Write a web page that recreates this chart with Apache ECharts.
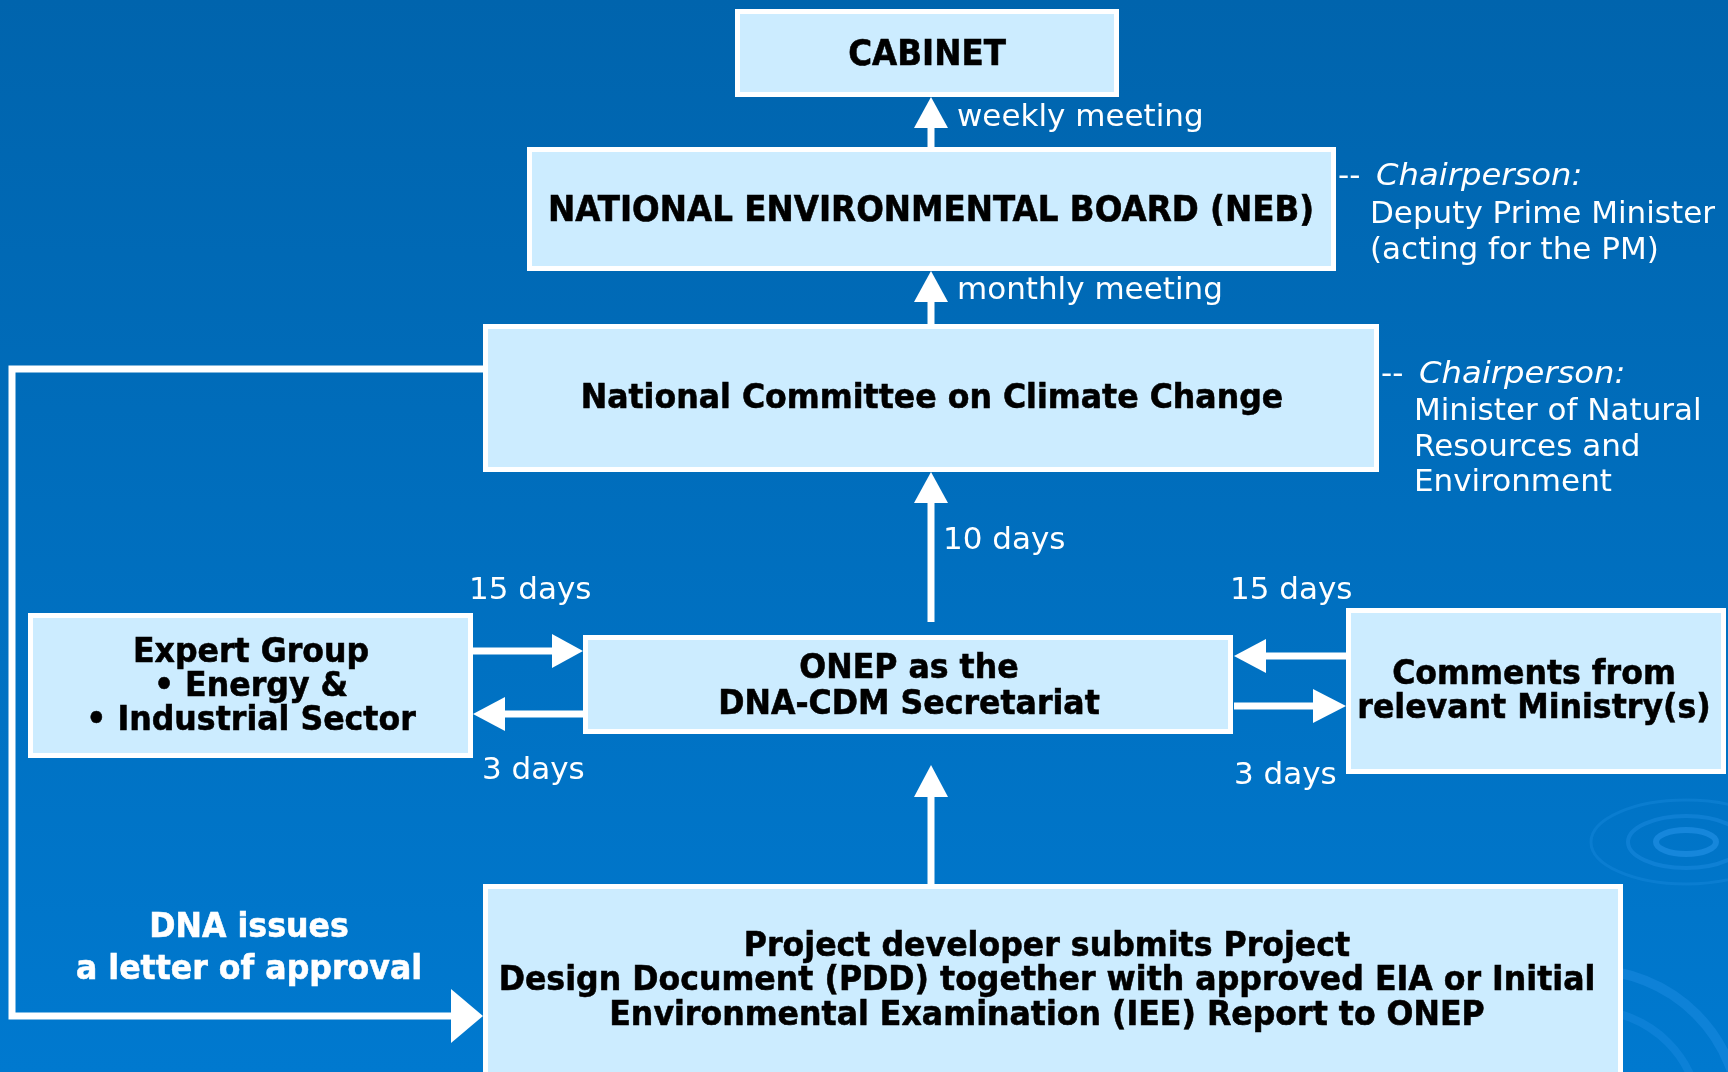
<!DOCTYPE html>
<html><head><meta charset="utf-8">
<script src="https://cdn.jsdelivr.net/npm/echarts@6/dist/echarts.min.js"></script>
<style>html,body{margin:0;padding:0;background:#006cb8}#c{width:1728px;height:1072px}</style>
</head><body><div id="c"></div>
<script>
// ---------- DATA (text content of the flowchart) ----------
const boxLabels = [
  ['CABINET'],
  ['NATIONAL ENVIRONMENTAL BOARD (NEB)'],
  ['National Committee on Climate Change'],
  ['Expert Group', '\u2022 Energy &', '\u2022 Industrial Sector'],
  ['ONEP as the', 'DNA-CDM Secretariat'],
  ['Comments from', 'relevant Ministry(s)'],
  ['Project developer submits Project', 'Design Document (PDD) together with approved EIA or Initial', 'Environmental Examination (IEE) Report to ONEP']
];
const flowLabels = ['weekly meeting', 'monthly meeting', '10 days', '15 days', '3 days', '15 days', '3 days'];
const approvalLabel = ['DNA issues', 'a letter of approval'];
const chairTitle = ['--', 'Chairperson:'];
const chairNEB = ['Deputy Prime Minister', '(acting for the PM)'];
const chairNCCC = ['Minister of Natural', 'Resources and', 'Environment'];

// ---------- LAYOUT (positions in diagram units, mapped through hidden axes) ----------
// [x0, y0, x1, y1, textCenterX, firstLineCenterY, lineHeight]
const BOX_LAYOUT = [
  [735, 9, 1119, 97, 927, 53, 34],
  [527, 147, 1336, 271, 931, 209, 34],
  [483, 324, 1379, 472, 932, 396, 34],
  [28, 613, 473, 758, 251, 650, 34],
  [583, 635, 1233, 734, 909, 666, 36],
  [1346, 608, 1726, 774, 1534, 672, 34],
  [483, 884, 1623, 1095, 1047, 944, 34.5]
];
// polylines ending with an arrow head: points, [headLength, headHalfWidth]
const ARROW_LAYOUT = [
  { pts: [[931, 147], [931, 97]], head: [31, 17] },
  { pts: [[931, 324], [931, 271]], head: [31, 17] },
  { pts: [[931, 622], [931, 472]], head: [31, 17] },
  { pts: [[931, 884], [931, 765]], head: [32, 17] },
  { pts: [[473, 651], [583, 651]], head: [31, 17] },
  { pts: [[583, 714], [473, 714]], head: [32, 17] },
  { pts: [[1346, 656], [1234, 656]], head: [32, 17] },
  { pts: [[1234, 706], [1346, 706]], head: [33, 17] },
  { pts: [[483, 369], [12, 369], [12, 1016], [483, 1016]], head: [32, 27] }
];
const FLOW_LABEL_POS = [[957, 115], [957, 288], [943, 538], [469, 588], [482, 768], [1230, 588], [1234, 773]];
const APPROVAL_POS = [249, 925, 42];
const CHAIR_POS = [
  { dash: [1338, 174], title: [1376, 174], lines: [1370, 212, 36] },
  { dash: [1381, 372], title: [1419, 372], lines: [1414, 409, 35.5] }
];

const FONT = '"DejaVu Sans", Verdana, sans-serif';
const BOLD_SIZE = 34, BOLD_CAPS_SIZE = 35, BOLD_SCALE = 0.93, BOLD_DY = 3;
const REG_SIZE = 31, REG_SCALE = 1.0, REG_DY = 3;
const BOX_FILL = '#CCECFF', BORDER = 5, SHAFT = 7;

function textEl(api, pos, text, opt) {
  const c = api.coord(pos);
  return {
    type: 'text', x: c[0], y: c[1] + (opt.dy || 0), scaleX: opt.scale,
    style: {
      text: text, x: 0, y: 0, align: opt.align || 'left', verticalAlign: 'middle',
      fontFamily: FONT, fontSize: opt.size, fontWeight: opt.weight || 'normal',
      fontStyle: opt.style || 'normal', fill: opt.color,
      stroke: opt.weight === 'bold' ? opt.color : null, lineWidth: opt.weight === 'bold' ? 0.6 : 0
    }
  };
}
function boldSize(t) { return /[a-z]/.test(t) ? BOLD_SIZE : BOLD_CAPS_SIZE; }

function renderBox(params, api) {
  const i = api.value(0);
  const L = BOX_LAYOUT[i];
  const p0 = api.coord([L[0], L[1]]), p1 = api.coord([L[2], L[3]]);
  const children = [{
    type: 'rect',
    shape: { x: p0[0] + BORDER / 2, y: p0[1] + BORDER / 2, width: p1[0] - p0[0] - BORDER, height: p1[1] - p0[1] - BORDER },
    style: { fill: BOX_FILL, stroke: '#ffffff', lineWidth: BORDER }
  }];
  boxLabels[i].forEach(function (t, k) {
    children.push(textEl(api, [L[4], L[5] + k * L[6]], t, { align: 'center', size: boldSize(t), weight: 'bold', scale: BOLD_SCALE, color: '#000', dy: BOLD_DY }));
  });
  return { type: 'group', children: children };
}

function renderArrow(params, api) {
  const a = ARROW_LAYOUT[api.value(0)];
  const pts = a.pts.map(function (p) { return api.coord(p); });
  const n = pts.length, tip = pts[n - 1], prev = pts[n - 2];
  const dx = tip[0] - prev[0], dy = tip[1] - prev[1], len = Math.hypot(dx, dy);
  const ux = dx / len, uy = dy / len;
  const base = [tip[0] - ux * a.head[0], tip[1] - uy * a.head[0]];
  const shaft = pts.slice(0, n - 1).concat([[base[0] + ux * 2, base[1] + uy * 2]]);
  const hw = a.head[1];
  const head = [tip, [base[0] - uy * hw, base[1] + ux * hw], [base[0] + uy * hw, base[1] - ux * hw]];
  return {
    type: 'group', children: [
      { type: 'polyline', shape: { points: shaft }, style: { stroke: '#fff', lineWidth: SHAFT, fill: null, lineJoin: 'miter', lineCap: 'butt' } },
      { type: 'polygon', shape: { points: head }, style: { fill: '#fff' } }
    ]
  };
}

function renderFreeText(params, api) {
  const kind = api.value(0);
  const children = [];
  const reg = { size: REG_SIZE, scale: REG_SCALE, color: '#fff', dy: REG_DY };
  if (kind === 0) {
    flowLabels.forEach(function (t, k) {
      children.push(textEl(api, FLOW_LABEL_POS[k], t, reg));
    });
  } else if (kind === 1) {
    approvalLabel.forEach(function (t, k) {
      children.push(textEl(api, [APPROVAL_POS[0], APPROVAL_POS[1] + k * APPROVAL_POS[2]], t, { align: 'center', size: BOLD_SIZE, weight: 'bold', scale: BOLD_SCALE, color: '#fff', dy: BOLD_DY }));
    });
  } else {
    const C = CHAIR_POS[kind - 2];
    const lines = kind === 2 ? chairNEB : chairNCCC;
    children.push(textEl(api, C.dash, chairTitle[0], reg));
    children.push(textEl(api, C.title, chairTitle[1], Object.assign({}, reg, { style: 'italic', scale: 1.04 })));
    lines.forEach(function (t, k) {
      children.push(textEl(api, [C.lines[0], C.lines[1] + k * C.lines[2]], t, reg));
    });
  }
  return { type: 'group', children: children };
}

const chart = echarts.init(document.getElementById('c'), null, { renderer: 'canvas' });
chart.setOption({
  animation: false,
  backgroundColor: 'transparent',
  graphic: [
    { type: 'rect', z: -10, silent: true, shape: { x: 0, y: 0, width: 1728, height: 1072 },
      style: { fill: { type: 'linear', x: 0, y: 0, x2: 0, y2: 1, colorStops: [{ offset: 0, color: '#0064ad' }, { offset: 1, color: '#0079cf' }] } } },
    { type: 'ellipse', z: -9, silent: true, shape: { cx: 1686, cy: 842, rx: 30, ry: 12 }, style: { fill: null, stroke: 'rgba(40,150,235,0.55)', lineWidth: 6 } },
    { type: 'ellipse', z: -9, silent: true, shape: { cx: 1686, cy: 842, rx: 58, ry: 26 }, style: { fill: null, stroke: 'rgba(40,150,235,0.35)', lineWidth: 4 } },
    { type: 'ellipse', z: -9, silent: true, shape: { cx: 1686, cy: 842, rx: 95, ry: 42 }, style: { fill: null, stroke: 'rgba(40,150,235,0.25)', lineWidth: 3 } },
    { type: 'circle', z: -9, silent: true, shape: { cx: 1590, cy: 1120, r: 150 }, style: { fill: null, stroke: 'rgba(40,150,235,0.35)', lineWidth: 10 } },
    { type: 'circle', z: -9, silent: true, shape: { cx: 1590, cy: 1120, r: 110 }, style: { fill: null, stroke: 'rgba(40,150,235,0.3)', lineWidth: 8 } }
  ],
  grid: { left: 0, right: 0, top: 0, bottom: 0 },
  xAxis: { type: 'value', min: 0, max: 1728, show: false },
  yAxis: { type: 'value', min: 0, max: 1072, inverse: true, show: false },
  series: [
    { type: 'custom', name: 'arrows', clip: false, z: 2, renderItem: renderArrow, data: ARROW_LAYOUT.map(function (_, i) { return [i]; }) },
    { type: 'custom', name: 'boxes', clip: false, z: 3, renderItem: renderBox, data: boxLabels.map(function (_, i) { return [i]; }) },
    { type: 'custom', name: 'labels', clip: false, z: 4, renderItem: renderFreeText, data: [[0], [1], [2], [3]] }
  ]
});
</script></body></html>
